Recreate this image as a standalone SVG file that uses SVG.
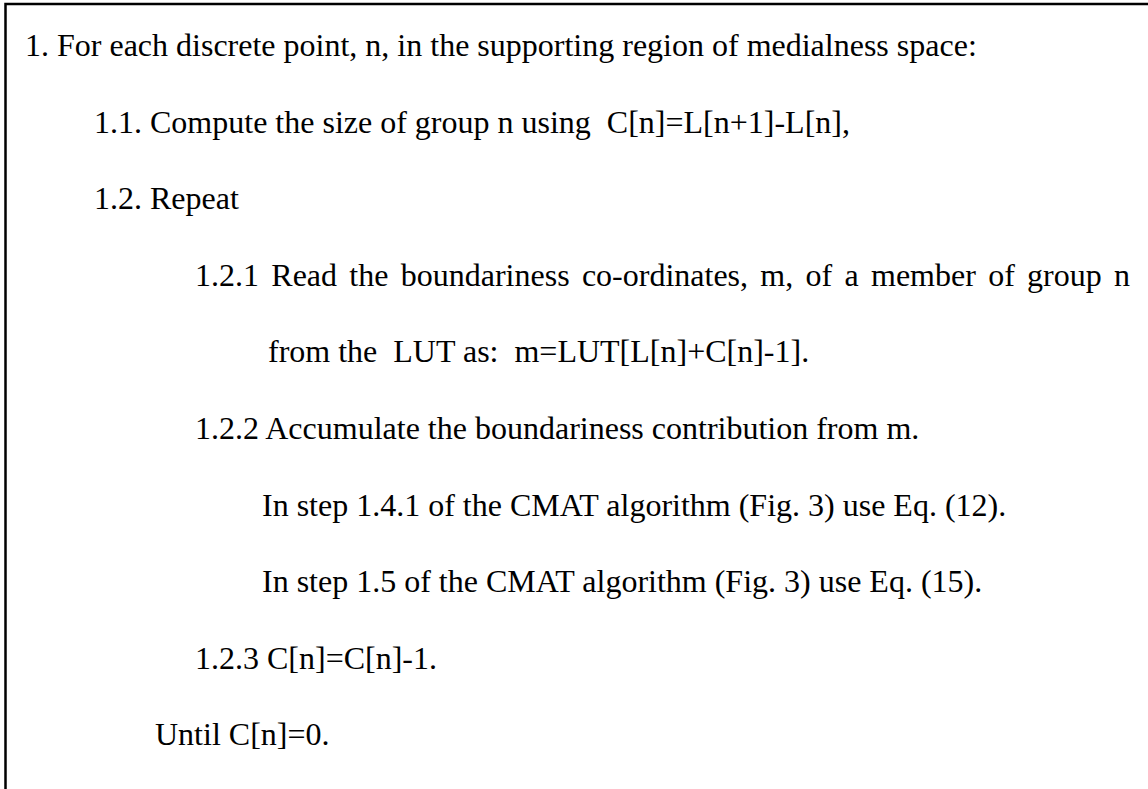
<svg xmlns="http://www.w3.org/2000/svg" width="1148" height="789" viewBox="0 0 1148 789">
<style>
  text { font-family: "Liberation Serif", "Times New Roman", serif; font-size: 32px; fill: #000; white-space: pre; }
  .frame { fill: none; stroke: #000; stroke-width: 2.5; }
</style>
<rect x="0" y="0" width="1148" height="789" fill="#fff"/>
<g id="frame"><rect class="frame" x="5.5" y="4" width="1200" height="900"/></g>
<g id="steps">
  <text id="l1" x="25" y="56">1. For each discrete point, n, in the supporting region of medialness space:</text>
  <text id="l2" x="94" y="133">1.1. Compute the size of group n using  C[n]=L[n+1]-L[n],</text>
  <text id="l3" x="94" y="209">1.2. Repeat</text>
  <text id="l4" x="195" y="286" word-spacing="4.3">1.2.1 Read the boundariness co-ordinates, m, of a member of group n</text>
  <text id="l5" x="268" y="362">from the  LUT as:  m=LUT[L[n]+C[n]-1].</text>
  <text id="l6" x="195" y="439">1.2.2 Accumulate the boundariness contribution from m.</text>
  <text id="l7" x="262" y="516">In step 1.4.1 of the CMAT algorithm (Fig. 3) use Eq. (12).</text>
  <text id="l8" x="262" y="592">In step 1.5 of the CMAT algorithm (Fig. 3) use Eq. (15).</text>
  <text id="l9" x="195" y="669">1.2.3 C[n]=C[n]-1.</text>
  <text id="l10" x="155" y="745">Until C[n]=0.</text>
</g>
</svg>
